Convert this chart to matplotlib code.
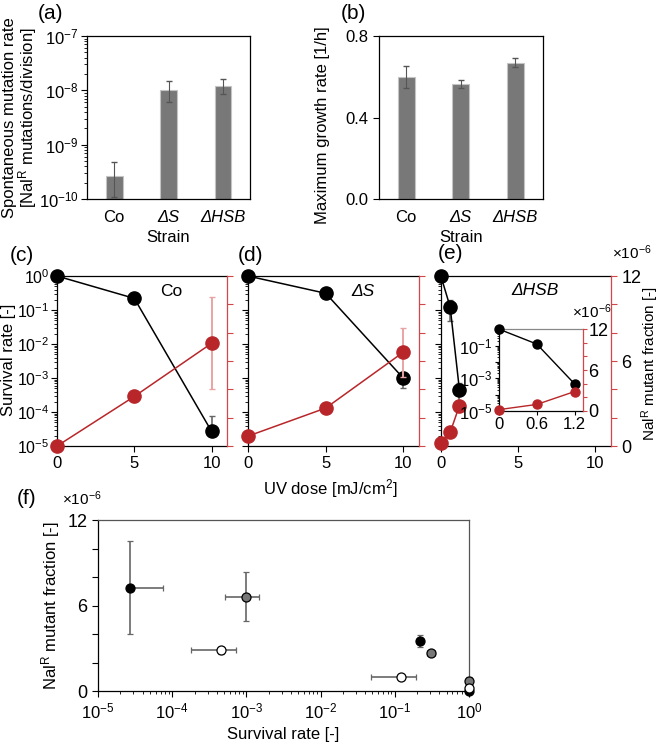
import numpy as np
import matplotlib
matplotlib.use('Agg')
import matplotlib.pyplot as plt
from matplotlib.ticker import LogLocator

plt.rcParams['font.family'] = ['Liberation Sans', 'DejaVu Sans']
plt.rcParams['mathtext.fontset'] = 'custom'
plt.rcParams['mathtext.rm'] = 'Liberation Sans'
plt.rcParams['mathtext.it'] = 'Liberation Sans:italic'
plt.rcParams['font.size'] = 12
plt.rcParams['axes.linewidth'] = 0.9

# (a), (b) strain summary
strains = ['Co', 'ΔS', 'ΔHSB']
mut_rate = [2.6e-10, 1.0e-8, 1.2e-8]
mut_rate_lo = [1.5e-10, 4.0e-9, 3.4e-9]
mut_rate_hi = [2.2e-10, 5.0e-9, 4.0e-9]
growth = [0.60, 0.566, 0.669]
growth_err = [0.055, 0.02, 0.022]

# (c)-(f) UV experiments, mutant fraction in units of 1e-6
dose_co = [0, 5, 10]
surv_co = [1.0, 0.22, 2.7e-5]
surv_co_lo = [0, 0.02, 0]
surv_co_hi = [0, 0.02, 4.9e-5]
mutf_co = [0.0, 3.5, 7.25]
mutf_co_lo = [0, 0.4, 3.25]
mutf_co_hi = [0, 0.4, 3.25]

dose_s = [0, 5, 10]
surv_s = [1.0, 0.31, 9.8e-4]
surv_s_lo = [0, 0.04, 4.6e-4]
surv_s_hi = [0, 0.04, 5.2e-4]
mutf_s = [0.7, 2.68, 6.63]
mutf_s_lo = [0.3, 0.15, 1.73]
mutf_s_hi = [0.3, 0.15, 1.71]

dose_hsb = [0, 0.6, 1.2]
surv_hsb = [1.0, 0.123, 4.5e-4]
surv_hsb_lo = [0, 0.075, 2.7e-4]
surv_hsb_hi = [0, 0.072, 2.8e-4]
mutf_hsb = [0.2, 0.96, 2.85]
mutf_hsb_lo = [0.1, 0.1, 0.25]
mutf_hsb_hi = [0.1, 0.1, 0.25]

f_colors = ['black', '#777777', 'white']

RED = '#b8262a'
RED_SPINE = '#d0474a'
RED_ERR = '#e8a4a4'
GRAY_ERR = '#666666'


def log_minor(ax, axis='y'):
    loc = LogLocator(base=10, subs=np.arange(2, 10), numticks=100)
    if axis == 'y':
        ax.yaxis.set_minor_locator(loc)
    else:
        ax.xaxis.set_minor_locator(loc)


fig = plt.figure(figsize=(6.6, 7.44), dpi=100)

# ---- (a) mutation rate
ax = fig.add_axes([0.132, 0.7325, 0.247, 0.219])
x = np.arange(3)
ax.set_yscale('log')
ax.bar(x, mut_rate, width=0.31, color='#787878', edgecolor='#c4c4c4', linewidth=0.8)
ax.errorbar(x, mut_rate, yerr=[mut_rate_lo, mut_rate_hi], fmt='none',
            ecolor='#555555', elinewidth=0.8, capsize=2)
ax.set_ylim(1e-10, 1e-7)
ax.set_xlim(-0.5, 2.5)
log_minor(ax)
ax.set_xticks(x)
ax.set_xticklabels(strains)
for i, lab in enumerate(ax.get_xticklabels()):
    if i > 0:
        lab.set_fontstyle('italic')
ax.tick_params(axis='x', length=0, pad=8)
ax.tick_params(axis='y', which='major', direction='out', length=4, pad=2)
ax.tick_params(axis='y', which='minor', direction='out', length=2)

# ---- (b) growth rate
ax = fig.add_axes([0.574, 0.7325, 0.248, 0.219])
ax.bar(x, growth, width=0.31, color='#787878', edgecolor='#c4c4c4', linewidth=0.8)
ax.errorbar(x, growth, yerr=growth_err, fmt='none',
            ecolor='#555555', elinewidth=0.8, capsize=2)
ax.set_ylim(0, 0.8)
ax.set_xlim(-0.5, 2.5)
ax.set_yticks([0, 0.4, 0.8])
ax.set_yticklabels(['0.0', '0.4', '0.8'])
ax.set_xticks(x)
ax.set_xticklabels(strains)
for i, lab in enumerate(ax.get_xticklabels()):
    if i > 0:
        lab.set_fontstyle('italic')
ax.tick_params(axis='x', length=0, pad=8)
ax.tick_params(axis='y', direction='out', length=4)

fig.text(0.031, 0.842, 'Spontaneous mutation rate\n[Nal$^{\\rm R}$ mutations/division]',
         rotation=90, ha='center', va='center', multialignment='center', linespacing=1.0)
fig.text(0.488, 0.832, 'Maximum growth rate [1/h]', rotation=90, ha='center', va='center')
fig.text(0.255, 0.681, 'Strain', ha='center', va='center')
fig.text(0.698, 0.681, 'Strain', ha='center', va='center')


# ---- (c)-(e) UV dose panels
def uv_panel(rect, dose, surv, s_lo, s_hi, mutf, m_lo, m_hi, tag, left_labels, right_labels):
    ax = fig.add_axes(rect)
    ax.set_yscale('log')
    ax.errorbar(dose, surv, yerr=[s_lo, s_hi], fmt='none', ecolor=GRAY_ERR,
                elinewidth=1.2, capsize=2, clip_on=False, zorder=2)
    ax.plot(dose, surv, '-o', color='black', lw=1.1, ms=9.5, clip_on=False, zorder=3)
    ax.set_ylim(1e-5, 1)
    ax.set_xlim(0, 11)
    ax.set_xticks([0, 5, 10])
    ax.set_yticks([1e-5, 1e-4, 1e-3, 1e-2, 1e-1, 1])
    log_minor(ax)
    if not left_labels:
        ax.set_yticklabels([])
    ax.tick_params(axis='both', which='major', direction='out', length=4)
    ax.tick_params(axis='y', which='major', pad=1.5, labelsize=11.5)
    ax.tick_params(axis='y', which='minor', direction='out', length=2)
    ax.spines['right'].set_visible(False)
    ax.text(0.67, 0.91, tag, transform=ax.transAxes, ha='center', va='center',
            fontstyle='normal' if tag == 'Co' else 'italic', fontsize=12.5)

    tw = ax.twinx()
    tw.errorbar(dose, mutf, yerr=[m_lo, m_hi], fmt='none', ecolor=RED_ERR,
                elinewidth=1.4, capsize=2, clip_on=False, zorder=2)
    tw.plot(dose, mutf, '-o', color=RED, lw=1.1, ms=9.5, clip_on=False, zorder=3)
    tw.set_ylim(0, 12)
    tw.set_yticks(np.arange(0, 13, 2))
    if right_labels:
        tw.set_yticklabels(['0', '', '', '6', '', '', '12'], fontsize=13)
    else:
        tw.set_yticklabels([])
    tw.spines['right'].set_color(RED_SPINE)
    tw.spines['left'].set_visible(False)
    tw.spines['top'].set_visible(False)
    tw.spines['bottom'].set_visible(False)
    tw.tick_params(axis='y', direction='out', length=4, color=RED_SPINE)
    return ax


uv_panel([0.0864, 0.4005, 0.2576, 0.2285], dose_co, surv_co, surv_co_lo, surv_co_hi,
         mutf_co, mutf_co_lo, mutf_co_hi, 'Co', True, False)
uv_panel([0.3758, 0.4005, 0.259, 0.2285], dose_s, surv_s, surv_s_lo, surv_s_hi,
         mutf_s, mutf_s_lo, mutf_s_hi, 'ΔS', False, False)
ax_e = uv_panel([0.668, 0.4005, 0.2576, 0.2285], dose_hsb, surv_hsb, surv_hsb_lo, surv_hsb_hi,
                mutf_hsb, mutf_hsb_lo, mutf_hsb_hi, 'ΔHSB', False, True)
ax_e.texts[0].set_position((0.553, 0.914))

# inset in (e)
ins = fig.add_axes([0.756, 0.4476, 0.127, 0.110])
ins.set_yscale('log')
ins.plot(dose_hsb, surv_hsb, '-o', color='black', lw=1.0, ms=6.5, clip_on=False, zorder=3)
ins.set_ylim(1e-5, 1)
ins.set_xlim(0, 1.33)
ins.set_xticks([0, 0.6, 1.2])
ins.set_xticklabels(['0', '0.6', '1.2'])
ins.set_yticks([1e-5, 1e-4, 1e-3, 1e-2, 1e-1, 1])
ins.set_yticklabels(['$10^{-5}$', '', '$10^{-3}$', '', '$10^{-1}$', ''])
log_minor(ins)
ins.tick_params(axis='both', which='major', direction='out', length=3, pad=1.5)
ins.tick_params(axis='y', which='minor', direction='out', length=1.5)
ins.spines['top'].set_color('#888888')
ins.spines['right'].set_visible(False)
itw = ins.twinx()
itw.plot(dose_hsb, mutf_hsb, '-o', color=RED, lw=1.0, ms=6.5, clip_on=False, zorder=3)
itw.set_ylim(0, 12)
itw.set_yticks(np.arange(0, 13, 2))
itw.set_yticklabels(['0', '', '', '6', '', '', '12'], fontsize=13)
itw.spines['right'].set_color(RED_SPINE)
itw.spines['left'].set_visible(False)
itw.spines['top'].set_visible(False)
itw.spines['bottom'].set_visible(False)
itw.tick_params(axis='y', direction='out', length=3, color=RED_SPINE, pad=1)

fig.text(0.013, 0.516, 'Survival rate [-]', rotation=90, ha='center', va='center')
fig.text(0.985, 0.512, 'Nal$^{\\rm R}$ mutant fraction [-]', rotation=90,
         ha='center', va='center', fontsize=11)
fig.text(0.5, 0.344, 'UV dose [mJ/cm$^2$]', ha='center', va='center')
fig.text(0.958, 0.66, '×10$^{-6}$', ha='center', va='center', fontsize=11)
fig.text(0.897, 0.581, '×10$^{-6}$', ha='center', va='center', fontsize=11)

# ---- (f) mutant fraction vs survival
ax = fig.add_axes([0.1485, 0.0712, 0.562, 0.2298])
ax.set_xscale('log')
f_sets = [
    (surv_co, surv_co_lo, surv_co_hi, mutf_co, mutf_co_lo, mutf_co_hi),
    (surv_s, surv_s_lo, surv_s_hi, mutf_s, mutf_s_lo, mutf_s_hi),
    (surv_hsb, surv_hsb_lo, surv_hsb_hi, mutf_hsb, mutf_hsb_lo, mutf_hsb_hi),
]
for (sv, slo, shi, mf, mlo, mhi), col in zip(f_sets, f_colors):
    ax.errorbar(sv, mf, xerr=[slo, shi], yerr=[mlo, mhi], fmt='o', color=col,
                mec='black', mew=0.9, ms=6.5, ecolor=GRAY_ERR, elinewidth=1.2,
                capsize=2.5, clip_on=False, zorder=3)
ax.set_xlim(1e-5, 1)
ax.set_ylim(0, 12)
ax.set_yticks(np.arange(0, 13, 2))
ax.set_yticklabels(['0', '', '', '6', '', '', '12'], fontsize=13)
ax.set_xticks([1e-5, 1e-4, 1e-3, 1e-2, 1e-1, 1])
log_minor(ax, 'x')
ax.tick_params(axis='both', which='major', direction='out', length=4)
ax.tick_params(axis='x', which='minor', direction='out', length=2)
ax.spines['top'].set_color('#555555')
ax.spines['right'].set_color('#555555')
ax.set_xlabel('Survival rate [-]', labelpad=4)
ax.set_ylabel('Nal$^{\\rm R}$ mutant fraction [-]', labelpad=4)
fig.text(0.124, 0.33, '×10$^{-6}$', ha='center', va='center', fontsize=11)

# panel letters
for lab, px, py in [('(a)', 0.076, 0.982), ('(b)', 0.535, 0.982), ('(c)', 0.033, 0.656),
                    ('(d)', 0.38, 0.656), ('(e)', 0.682, 0.659), ('(f)', 0.041, 0.33)]:
    fig.text(px, py, lab, ha='center', va='center', fontsize=15)

fig.savefig('out.png', dpi=100)
